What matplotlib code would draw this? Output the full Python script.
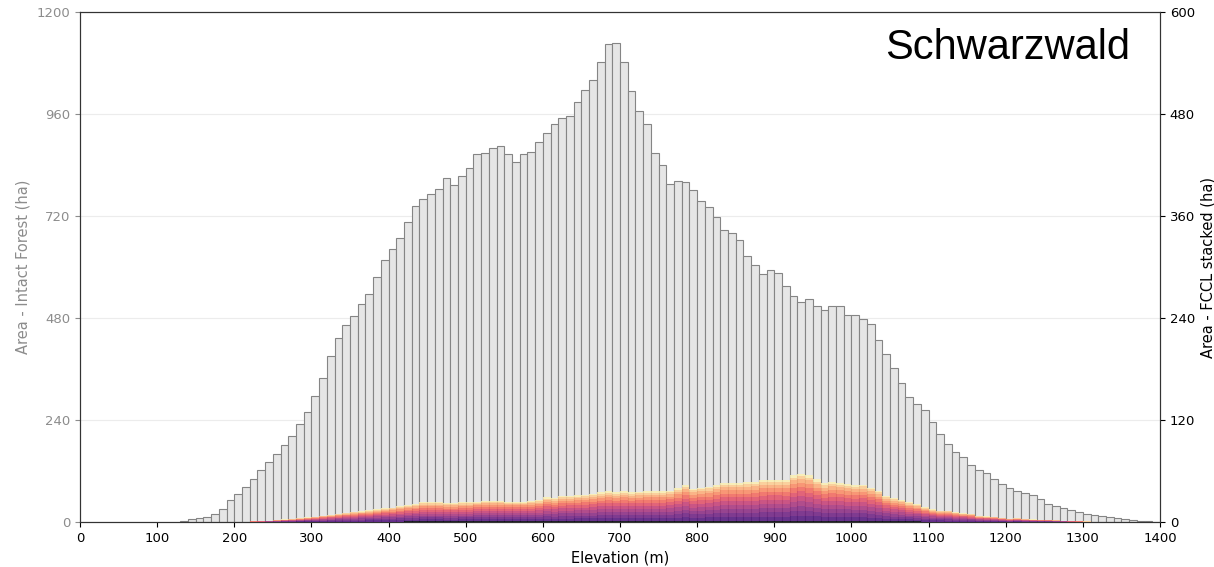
"""
Schwarzwald: intact forest area and stacked FCCL area per elevation band
"""

import numpy as np
import matplotlib
matplotlib.use("Agg")
import matplotlib.pyplot as plt


# ── Data ──────────────────────────────────────────────────────────────────────
bin_width = 10  # m
bin_start = np.arange(130, 1400, 10)

intact_ha = [
    2, 7.5, 10, 12, 18.5, 31, 51, 65, 82, 100,                      # 130-220
    122, 140, 160, 181, 202, 230, 258, 296, 338, 390,               # 230-320
    434, 464, 485, 512, 536, 577, 617, 642, 669, 706,               # 330-420
    744, 759, 771, 784, 809, 794, 813, 832, 867, 869,               # 430-520
    881, 884, 866, 848, 865, 870, 895, 915, 937, 950,               # 530-620
    955, 989, 1016, 1039, 1082, 1124, 1127, 1082, 1013, 966,        # 630-720
    936, 868, 841, 795, 803, 800, 781, 755, 741, 718,               # 730-820
    688, 679, 664, 626, 605, 583, 593, 586, 555, 531,               # 830-920
    518, 524, 508, 498, 508, 508, 487, 486, 478, 466,               # 930-1020
    428, 396, 363, 326, 295, 278, 264, 236, 207, 184,               # 1030-1120
    165, 153, 133, 123, 115, 100, 89, 80, 73, 69,                   # 1130-1220
    63, 53, 43, 38, 32, 29, 23, 18.5, 16, 13,                       # 1230-1320
    11, 9.5, 7, 5, 2.5, 1.5, 1,                                     # 1330-1390
]

fccl_total_ha = [
    0, 0, 0, 0, 0, 0, 0, 0.2, 0.5, 0.8,                             # 130-220
    1, 1.5, 2.3, 3, 3.5, 4.5, 5.5, 6.3, 7.5, 8.5,                   # 230-320
    9.8, 10.6, 11.8, 12.5, 13.7, 15, 16, 17, 18.5, 20,              # 330-420
    21, 23, 23, 23, 22, 22, 23, 23, 24, 24.5,                       # 430-520
    25, 25, 24, 24, 24, 24.5, 25.5, 29, 28, 30.6,                   # 530-620
    31, 31.5, 32, 33, 35, 36, 35, 36, 35, 35.5,                     # 630-720
    36, 36, 36, 37, 40, 43.5, 39, 40.5, 41.5, 43.5,                 # 730-820
    46, 46, 46, 46.5, 47, 49, 49.5, 49.5, 49, 55,                   # 830-920
    57, 55, 50, 45.5, 47, 46, 44.5, 43.5, 44, 40.5,                 # 930-1020
    37, 31, 28, 26, 23, 21, 17.5, 15, 13.5, 13,                     # 1030-1120
    11.5, 10.5, 9.5, 7, 6.5, 6, 5, 4, 4.5, 3.5,                     # 1130-1220
    3, 2.5, 2.5, 2, 1.5, 1, 0.8, 0.6, 0.5, 0.3,                     # 1230-1320
    0.2, 0, 0, 0, 0, 0, 0,                                          # 1330-1390
]

# share of each FCCL layer in the stack (bottom -> top)
layer_share = [0.03, 0.10, 0.10, 0.10, 0.10, 0.10, 0.10, 0.09, 0.09, 0.08, 0.06, 0.05]

left_ticks = [0, 240, 480, 720, 960, 1200]
right_ticks = [0, 120, 240, 360, 480, 600]
x_ticks = np.arange(0, 1401, 100)


# ── Figure ────────────────────────────────────────────────────────────────────
fig = plt.figure(figsize=(12.14, 5.67), dpi=100)
ax = fig.add_axes([0.0659, 0.0794, 0.8896, 0.8994])

ax.bar(bin_start, intact_ha, width=bin_width, align="edge",
       color="#e6e6e6", edgecolor="#858585", linewidth=0.8, zorder=2)

ax.set_xlim(0, 1400)
ax.set_ylim(0, 1200)
ax.set_yticks(left_ticks)
ax.set_xticks(x_ticks)
ax.grid(axis="y", color="#ececec", linewidth=0.8, zorder=0)
ax.set_axisbelow(True)
ax.tick_params(axis="y", colors="#8c8c8c", labelsize=9.5)
ax.tick_params(axis="x", labelsize=9.5)
ax.set_ylabel("Area - Intact Forest (ha)", color="#8c8c8c", fontsize=10.5)
ax.set_xlabel("Elevation (m)", fontsize=10.5)
for s in ax.spines.values():
    s.set_color("#333333")

# ── FCCL stacked on twin axis ─────────────────────────────────────────────────
ax2 = ax.twinx()
cols = [plt.cm.magma(0.02)] + list(plt.cm.magma(np.linspace(0.25, 0.97, len(layer_share) - 1)))
total = np.array(fccl_total_ha)
bottom = np.zeros_like(total)
for share, c in zip(layer_share, cols):
    h = total * share
    ax2.bar(bin_start, h, width=bin_width, align="edge", bottom=bottom,
            color=c, alpha=0.85, linewidth=0, zorder=3)
    bottom += h

ax2.set_ylim(0, 600)
ax2.set_yticks(right_ticks)
ax2.tick_params(axis="y", labelsize=9.5)
ax2.set_ylabel("Area - FCCL stacked (ha)", fontsize=10.5)
for s in ax2.spines.values():
    s.set_color("#333333")

ax2.text(0.972, 0.93, "Schwarzwald", transform=ax2.transAxes,
         ha="right", va="center", fontsize=30, family="Liberation Sans")

fig.savefig("out.png", dpi=100)
